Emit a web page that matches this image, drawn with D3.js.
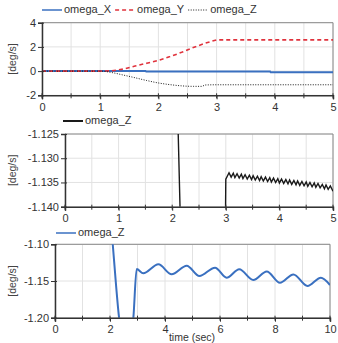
<!DOCTYPE html>
<html>
<head>
<meta charset="utf-8">
<script src="https://cdn.jsdelivr.net/npm/d3@7"></script>
<style>
  body { margin: 0; background: #fff; }
  text { font-family: "Liberation Sans", Arial, sans-serif; }
</style>
</head>
<body>
<div id="chart"></div>
<script>
// top panel: omega_X, omega_Y, omega_Z over 0..5 s
const omegaXTop = [[0, 0], [1.78, 0], [1.79, -0.04], [3.92, -0.04], [3.93, -0.1], [5, -0.1]];
const omegaYTop = [[0, 0], [1.0, 0], [1.2, 0.02], [1.4, 0.17], [1.6, 0.42], [1.8, 0.65], [2.0, 0.88],
  [2.2, 1.2], [2.4, 1.55], [2.6, 1.95], [2.8, 2.3], [3.0, 2.58], [5, 2.58]];
const omegaZTop = [[0, 0], [1.0, 0], [1.2, -0.12], [1.4, -0.33], [1.6, -0.55], [1.8, -0.78], [2.0, -0.98],
  [2.2, -1.12], [2.4, -1.22], [2.6, -1.26], [2.75, -1.26], [2.8, -1.15], [3.0, -1.13], [5, -1.13]];

// middle panel: omega_Z zoomed in, 0..5 s
const omegaZMid = [[2.0, -1.05], [2.11, -1.1240], [2.148, -1.1410], [2.5, -1.25], [2.995, -1.1410],
  [3.00, -1.1343], [3.06, -1.1330], [3.10, -1.1339], [3.14, -1.1331], [3.17, -1.1340], [3.21, -1.1332],
  [3.25, -1.1341], [3.29, -1.1333], [3.32, -1.1342], [3.36, -1.1334], [3.40, -1.1343], [3.44, -1.1335],
  [3.48, -1.1344], [3.51, -1.1336], [3.55, -1.1345], [3.59, -1.1337], [3.63, -1.1346], [3.66, -1.1338],
  [3.70, -1.1347], [3.74, -1.1339], [3.78, -1.1348], [3.82, -1.1340], [3.85, -1.1349], [3.89, -1.1341],
  [3.93, -1.1350], [3.97, -1.1342], [4.00, -1.1351], [4.04, -1.1343], [4.08, -1.1352], [4.12, -1.1344],
  [4.16, -1.1353], [4.19, -1.1345], [4.23, -1.1354], [4.27, -1.1346], [4.31, -1.1355], [4.34, -1.1347],
  [4.38, -1.1356], [4.42, -1.1348], [4.46, -1.1357], [4.50, -1.1349], [4.53, -1.1358], [4.57, -1.1350],
  [4.61, -1.1359], [4.65, -1.1351], [4.68, -1.1360], [4.72, -1.1352], [4.76, -1.1361], [4.80, -1.1354],
  [4.84, -1.1363], [4.87, -1.1355], [4.91, -1.1364], [4.95, -1.1357], [5.00, -1.1368]];

// bottom panel: omega_Z over 0..10 s
const omegaZLow = [[1.9, -1.01], [2.10, -1.10], [2.33, -1.20], [2.5, -1.24], [2.7, -1.24], [2.85, -1.20],
  [2.97, -1.1337], [3.21, -1.1395], [3.76, -1.1273], [4.24, -1.1409], [4.79, -1.1291], [5.25, -1.1432],
  [5.82, -1.1318], [6.24, -1.1455], [6.70, -1.1340], [7.21, -1.1486], [7.70, -1.1370], [8.18, -1.1523],
  [8.67, -1.1410], [9.18, -1.1568], [9.67, -1.1455], [10, -1.1555]];

const ticksTop = [-2, 0, 2, 4];
const ticksMid = [-1.14, -1.135, -1.13, -1.125];
const ticksLow = [-1.2, -1.15, -1.1];

const blue = "#3a70c0", red = "#e0323c", dark = "#1a1a1a";

const svg = d3.select("#chart").append("svg")
  .attr("width", 338)
  .attr("height", 343);

function panel(cfg) {
  const x = d3.scaleLinear().domain(cfg.xDomain).range([cfg.left, cfg.right]);
  const y = d3.scaleLinear().domain(cfg.yDomain).range([cfg.bottom, cfg.top]);
  const g = svg.append("g");
  const xMinor = d3.range(cfg.xDomain[0], cfg.xDomain[1] + 1e-9, cfg.minor);

  // grid
  g.append("g").selectAll("line").data(xMinor).join("line")
    .attr("x1", d => x(d)).attr("x2", d => x(d))
    .attr("y1", cfg.top).attr("y2", cfg.bottom)
    .attr("stroke", "#e2e2e2");
  g.append("g").selectAll("line").data(cfg.yTicks).join("line")
    .attr("x1", cfg.left).attr("x2", cfg.right)
    .attr("y1", d => y(d)).attr("y2", d => y(d))
    .attr("stroke", "#e2e2e2");

  // frame top/right
  g.append("path")
    .attr("d", `M${cfg.left},${cfg.top}H${cfg.right}V${cfg.bottom}`)
    .attr("fill", "none").attr("stroke", "#8a8a8a");

  // lines, clipped to the plot box
  const clipId = "clip" + cfg.id;
  svg.append("clipPath").attr("id", clipId).append("rect")
    .attr("x", cfg.left).attr("y", cfg.top)
    .attr("width", cfg.right - cfg.left).attr("height", cfg.bottom - cfg.top);
  const lines = g.append("g").attr("clip-path", `url(#${clipId})`);
  cfg.series.forEach(s => {
    lines.append("path")
      .datum(s.data)
      .attr("fill", "none")
      .attr("stroke", s.color)
      .attr("stroke-width", s.width)
      .attr("stroke-dasharray", s.dash || null)
      .attr("d", d3.line().x(d => x(d[0])).y(d => y(d[1])).curve(s.curve || d3.curveLinear));
  });

  // axes
  const xAxis = g.append("g")
    .attr("transform", `translate(0,${cfg.bottom})`)
    .call(d3.axisBottom(x).tickValues(cfg.xTicks).tickSize(4).tickPadding(4).tickFormat(d3.format("d")));
  xAxis.append("g").selectAll("line").data(xMinor).join("line")
    .attr("x1", d => x(d)).attr("x2", d => x(d))
    .attr("y1", -2).attr("y2", 3)
    .attr("stroke", "#333");
  const yAxis = g.append("g")
    .attr("transform", `translate(${cfg.left},0)`)
    .call(d3.axisLeft(y).tickValues(cfg.yTicks).tickSize(4).tickPadding(2).tickFormat(d => d.toFixed(cfg.digits)));
  yAxis.selectAll(".tick").append("line").attr("x2", 2).attr("stroke", "#333");
  [xAxis, yAxis].forEach(a => {
    a.select(".domain").attr("stroke", "#333").attr("stroke-width", 1.5);
    a.selectAll(".tick line").attr("stroke", "#333");
    a.selectAll("text").attr("font-size", 11).attr("fill", "#333")
      .style("font-family", "'Liberation Sans', Arial, sans-serif");
  });

  // y label
  g.append("text")
    .attr("transform", `translate(13,${(cfg.top + cfg.bottom) / 2}) rotate(-90)`)
    .attr("text-anchor", "middle")
    .attr("dominant-baseline", "middle")
    .attr("font-size", 10.5)
    .attr("fill", "#444")
    .text("[deg/s]");

  // legend
  let lx = cfg.legendX;
  cfg.series.forEach(s => {
    g.append("line")
      .attr("x1", lx).attr("x2", lx + 20)
      .attr("y1", cfg.legendY).attr("y2", cfg.legendY)
      .attr("stroke", s.color).attr("stroke-width", s.legendWidth || s.width)
      .attr("stroke-dasharray", s.dash || null);
    const t = g.append("text")
      .attr("x", lx + 22).attr("y", cfg.legendY)
      .attr("dominant-baseline", "middle")
      .attr("font-size", 11)
      .attr("fill", "#333")
      .text(s.name);
    lx += 22 + t.node().getComputedTextLength() + 4;
  });
}

panel({
  id: 1, left: 42, right: 333, top: 22.7, bottom: 95.3,
  xDomain: [0, 5], yDomain: [-2, 4], xTicks: [0, 1, 2, 3, 4, 5], minor: 0.5,
  yTicks: ticksTop, digits: 0, legendX: 42, legendY: 10,
  series: [
    { name: "omega_X", data: omegaXTop, color: blue, width: 2, legendWidth: 1.5 },
    { name: "omega_Y", data: omegaYTop, color: red, width: 1.6, dash: "4,3" },
    { name: "omega_Z", data: omegaZTop, color: dark, width: 1, dash: "1,1.5", curve: d3.curveMonotoneX }
  ]
});

panel({
  id: 2, left: 65, right: 333, top: 134, bottom: 206.7,
  xDomain: [0, 5], yDomain: [-1.14, -1.125], xTicks: [0, 1, 2, 3, 4, 5], minor: 0.5,
  yTicks: ticksMid, digits: 3, legendX: 63, legendY: 121,
  series: [
    { name: "omega_Z", data: omegaZMid, color: dark, width: 1.4, legendWidth: 2 }
  ]
});

panel({
  id: 3, left: 55, right: 330, top: 244.3, bottom: 317.7,
  xDomain: [0, 10], yDomain: [-1.2, -1.1], xTicks: [0, 2, 4, 6, 8, 10], minor: 1,
  yTicks: ticksLow, digits: 2, legendX: 56, legendY: 233,
  series: [
    { name: "omega_Z", data: omegaZLow, color: blue, width: 2, legendWidth: 1.5, curve: d3.curveMonotoneX }
  ]
});

svg.append("text")
  .attr("x", 192).attr("y", 340.5)
  .attr("text-anchor", "middle")
  .attr("font-size", 10.5)
  .attr("fill", "#333")
  .text("time (sec)");
</script>
</body>
</html>
